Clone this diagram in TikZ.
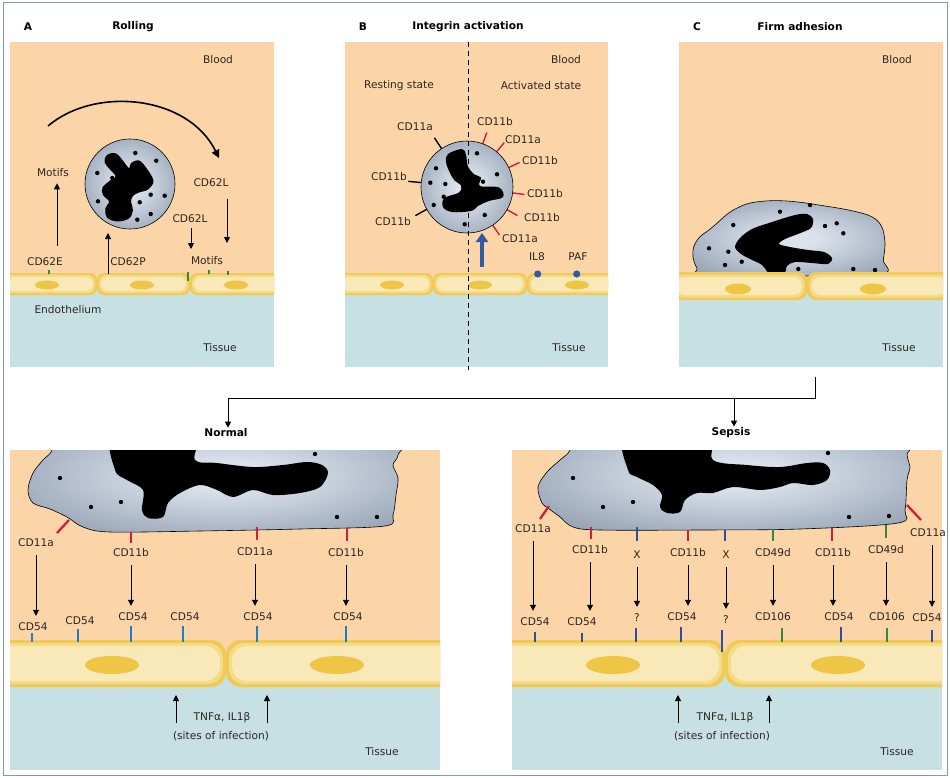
\documentclass[tikz,border=0pt]{standalone}
\usepackage{fontspec}
\setmainfont{DejaVu Sans}
\usetikzlibrary{arrows.meta}

\definecolor{blood}{HTML}{FBD4A8}
\definecolor{tissue}{HTML}{C6E0E3}
\definecolor{endoout}{HTML}{F0CA55}
\definecolor{endomid}{HTML}{F5DB88}
\definecolor{endoin}{HTML}{FAE9B8}
\definecolor{endonuc}{HTML}{EEC545}
\definecolor{cellhi}{HTML}{DCE2EC}
\definecolor{cellmid}{HTML}{A4B0C0}
\definecolor{cellout}{HTML}{6A798B}
\definecolor{rec}{HTML}{CF1F3D}
\definecolor{icam}{HTML}{1F7DC4}
\definecolor{icamdk}{HTML}{2C4F9F}
\definecolor{vcam}{HTML}{2E8C3E}
\definecolor{chemo}{HTML}{2E5AA8}
\definecolor{framec}{HTML}{809F9D}
\definecolor{txt}{HTML}{2E2620}

% leukocyte cytoplasm: pale centre, darker rim
\pgfdeclareradialshading{neutro}{\pgfpoint{0bp}{0bp}}{color(0bp)=(cellhi); color(6bp)=(cellhi); color(26bp)=(cellmid); color(50bp)=(cellout); color(100bp)=(cellout)}

% endothelial cell: x1 y1 x2 y2 corner-radius inset
\newcommand\vesselcell[6]{%
  \fill[endoout, rounded corners=#5] (#1,#2) rectangle (#3,#4);
  \fill[endomid, rounded corners=#5] (#1+#6,#2+#6) rectangle (#3-#6,#4-#6);
  \fill[endoin, rounded corners=#5] (#1+2*#6,#2+2*#6) rectangle (#3-2*#6,#4-2*#6);
}
% endothelial nucleus: x y x-radius y-radius
\newcommand\vesselnucleus[4]{\fill[endonuc] (#1,#2) ellipse[x radius=#3pt, y radius=#4pt];}

\begin{document}
\begin{tikzpicture}[x=1pt,y=-1pt,
  lbl/.style={text=txt, font=\fontsize{10.6}{12}\selectfont, inner sep=1pt},
  ttl/.style={text=black, font=\bfseries\fontsize{10.6}{12}\selectfont, inner sep=1pt},
  arr/.style={draw=black, line width=0.9pt, -{Triangle[length=6pt,width=6pt]}},
  neut/.style={draw=black, line width=0.6pt, shade, shading=neutro},
  tick/.style={line width=2.3pt},
  spike/.style={line width=1.4pt},
  gran/.style={radius=2.2pt}]

\useasboundingbox (0,0) rectangle (950,778);
\fill[white] (0,0) rectangle (950,778);
\draw[framec, line width=1pt] (3,3) rectangle (947,775);

%% ---------------- A: rolling ----------------
\begin{scope}
  \clip (10,42) rectangle (274,367);
  \fill[blood] (10,42) rectangle (274,284);
  \fill[tissue] (10,284) rectangle (274,367);
  \vesselcell{2}{273}{97}{295}{7}{2}
  \vesselcell{97}{273}{190}{295}{7}{2}
  \vesselcell{190}{273}{282}{295}{7}{2}
  \vesselnucleus{47}{285}{12}{4.5}
  \vesselnucleus{142}{285}{12}{4.5}
  \vesselnucleus{236}{285}{12}{4.5}
\end{scope}
\node[neut, circle, minimum size=90pt] (nA) at (130,184) {};
\fill[black] plot[smooth cycle, tension=0.6] coordinates {(107,155) (116,153.5) (124,162) (129,168) (131,163) (139,160.5) (146,167.5) (153.5,180.7) (148,189.5) (139,192.5) (133,196) (131,202) (133,210) (129,218.5) (117.3,221.5) (107,217.5) (105.5,208) (109,201.5) (103,195) (102.5,187.5) (110,180.5) (115.5,176.3) (109.5,169) (104.5,162)};
\foreach \x/\y in {135.3/153,156.3/160.7,97.3/173,112.3/178,150.7/194.7,164.7/195.7,139.7/202.3,98/201.3,150.7/214,137.3/219.7}
  \fill (\x,\y) circle[gran];
\foreach \x/\a/\b in {49/270/274,188/272/281,209/270/274,228/271/275}
  \draw[vcam, line width=2pt] (\x,\a) -- (\x,\b);

\node[ttl] (hA) at (28,27) {A};
\node[ttl] (tA) at (133,27) {Rolling};
\node[lbl] (blA) at (218,60) {Blood};
\node[lbl] (tiA) at (220,348) {Tissue};
\node[lbl] (enA) at (68,310) {Endothelium};
\node[lbl] (moA) at (53,173) {Motifs};
\node[lbl] (eA) at (45,262) {CD62E};
\node[lbl] (pA) at (128,262) {CD62P};
\node[lbl] (l1A) at (211,183) {CD62L};
\node[lbl] (l2A) at (190,219) {CD62L};
\node[lbl] (mo2A) at (207,261) {Motifs};

\coordinate (eArr) at (57,246);
\draw[arr, shorten >=5pt] (eArr) -- (eArr |- moA.south);
\coordinate (pS) at (108,274);
\coordinate (pE) at (108,233);
\draw[arr] (pS) -- (pE);
\coordinate (l1S) at (227,199);
\coordinate (l1E) at (227,243);
\draw[arr] (l1S) -- (l1E);
\coordinate (l2S) at (191,228);
\coordinate (l2E) at (191,249);
\draw[arr] (l2S) -- (l2E);
\coordinate (rollS) at (48,126);
\coordinate (rollE) at (219,158);
\draw[line width=1.6pt, -{Triangle[length=8pt,width=8pt]}] (rollS) .. controls (95,86) and (188,95) .. (rollE);

%% ---------------- B: integrin activation ----------------
\begin{scope}
  \clip (345,42) rectangle (608,367);
  \fill[blood] (345,42) rectangle (608,284);
  \fill[tissue] (345,284) rectangle (608,367);
  \vesselcell{337}{273}{433}{295}{7}{2}
  \vesselcell{433}{273}{527}{295}{7}{2}
  \vesselcell{527}{273}{616}{295}{7}{2}
  \vesselnucleus{392}{285}{12}{4.5}
  \vesselnucleus{480}{285}{12}{4.5}
  \vesselnucleus{577}{285}{12}{4.5}
\end{scope}
\begin{scope}[shift={(467,187)}]
  \foreach \a in {-123.5,-174.5,-209} \draw[spike] (\a:40) -- (\a:59);
  \foreach \a in {-70,-50,-25,7.4,29.5,56} \draw[spike, rec] (\a:40) -- (\a:58);
\end{scope}
\node[neut, circle, minimum size=92pt] (nB) at (467,187) {};
\fill[black] plot[smooth cycle, tension=0.6] coordinates {(448,154) (462,149) (466,155) (468,166.7) (474.5,174.5) (481,177.5) (480,186) (499,187.5) (503,197) (489,201) (478,206) (471,211) (452,212) (443,207) (444.5,198) (459,192.5) (461,185.5) (454.5,180.5) (449.5,172) (446,162)};
\foreach \x/\y in {477/153.3,436/168.3,497/174.3,430.3/182.7,445.3/184,483/181.7,443.7/196.7,433.7/205,484.7/215,464.7/224.3}
  \fill (\x,\y) circle[gran];
\coordinate (dashT) at (468,42);
\coordinate (dashB) at (468,370);
\draw[dash pattern=on 5pt off 4pt, line width=0.8pt] (dashT) -- (dashB);
\coordinate (actS) at (482,267);
\coordinate (actE) at (482,233);
\draw[chemo, line width=4pt, -{Triangle[length=9pt,width=12pt]}] (actS) -- (actE);

\node[ttl] (hB) at (363,27) {B};
\node[ttl] (tB) at (468,27) {Integrin activation};
\node[lbl] (blB) at (566,60) {Blood};
\node[lbl] (rsB) at (399,86) {Resting state};
\node[lbl] (acB) at (541,86) {Activated state};
\node[lbl] (tiB) at (569,348) {Tissue};
\node[lbl] (r1) at (415,127) {CD11a};
\node[lbl] (r2) at (389,177) {CD11b};
\node[lbl] (r3) at (393,222) {CD11b};
\node[lbl] (a1) at (495,122) {CD11b};
\node[lbl] (a2) at (523,140) {CD11a};
\node[lbl] (a3) at (540,161) {CD11b};
\node[lbl] (a4) at (545,194) {CD11b};
\node[lbl] (a5) at (542,218) {CD11b};
\node[lbl] (a6) at (520,239) {CD11a};
\node[lbl] (il8) at (537,257) {IL8};
\node[lbl] (paf) at (578,257) {PAF};
\fill[chemo] (537.7,274) circle[radius=3.6pt];
\fill[chemo] (576.7,274) circle[radius=3.6pt];

%% ---------------- C: firm adhesion ----------------
\begin{scope}
  \clip (679,42) rectangle (943,367);
  \fill[blood] (679,42) rectangle (943,286);
  \fill[tissue] (679,286) rectangle (943,367);
  \shadedraw[shading=neutro, line width=0.6pt] plot[smooth cycle, tension=0.6] coordinates {(693,257) (694,246) (700,236.7) (706.7,231.7) (715,225) (728.3,213.3) (740,206.7) (751.7,202.7) (771.7,200.7) (795,201.7) (825,206) (851.7,210.7) (871.7,216.7) (881.7,226.7) (885,243.3) (883.3,260) (882,274) (800,276) (705,275) (697,268)};
  \fill[black] plot[smooth cycle, tension=0.5] coordinates {(740,238) (752,229) (772,222) (795,215) (807,214) (813,219) (811,228) (798,234) (785,239) (779,244) (790,247) (808,250) (824,252) (832,258) (828,264) (812,263) (795,262) (787,266) (784,274) (770,274) (762,265) (750,259) (741,254) (735,247)};
  \foreach \x/\y in {810/205,780/211.7,836.7/223.3,825/226,733.3/225,843.3/233.3,709/248.3,728.3/251.7,741.7/261.7,725/265,798.3/269,853.3/269,875/270}
    \fill (\x,\y) circle[gran];
  \vesselcell{671}{272}{807}{300}{9}{2.5}
  \vesselcell{807}{272}{951}{300}{9}{2.5}
  \vesselnucleus{738}{289}{13}{5.5}
  \vesselnucleus{873}{289}{13}{5.5}
\end{scope}
\node[ttl] (hC) at (697,27) {C};
\node[ttl] (tC) at (800,27) {Firm adhesion};
\node[lbl] (blC) at (897,60) {Blood};
\node[lbl] (tiC) at (899,348) {Tissue};

%% ---------------- branching to the two outcomes ----------------
\node[ttl] (norm) at (226,433) {Normal};
\node[ttl] (seps) at (731,433) {Sepsis};
\coordinate (brTop) at (815,377);
\coordinate (brJoin) at (815,398);
\coordinate (brL) at (228,398);
\coordinate (brR) at (734,398);
\draw[line width=0.8pt] (brTop) -- (brJoin) -- (brL);
\draw[arr] (brL) -- (brL |- norm.north);
\draw[arr] (brR) -- (brR |- seps.north);

%% ---------------- Normal ----------------
\begin{scope}
  \clip (10,450) rectangle (440,770);
  \fill[blood] (10,450) rectangle (440,664);
  \fill[tissue] (10,664) rectangle (440,770);
  \vesselcell{-10}{640}{226}{687}{15}{3}
  \vesselcell{226}{640}{460}{687}{15}{3}
  \vesselnucleus{112}{665}{27}{9}
  \vesselnucleus{337}{665}{27}{9}
  \shadedraw[shading=neutro, line width=0.6pt] plot[smooth cycle, tension=0.55] coordinates {(52,430) (52,450) (43,460) (33,473) (28,490) (33,503) (50,509) (67,517) (83,527) (110,532) (200,531) (300,529) (385,526) (393,515) (396,495) (398,478) (393,465) (398,455) (397,430) (220,418)};
  \fill[black] plot[smooth cycle, tension=0.55] coordinates {(115,435) (115,470) (127,480) (143,490) (142,510) (148,518) (163,517) (168,503) (180,493) (200,485) (217,490) (233,497) (253,490) (273,495) (300,493) (320,487) (328,473) (322,465) (307,462) (283,465) (253,467) (217,463) (195,460) (192,435)};
  \foreach \x/\y in {60/478,91/507,121/502,315/454,337/517,377/517}
    \fill (\x,\y) circle[gran];
\end{scope}
\draw[tick, rec] (57,533) -- (69,520);
\foreach \x/\a/\b in {131/532/543,257/527/540,347/528/541}
  \draw[tick, rec] (\x,\a) -- (\x,\b);
\foreach \x/\a in {32/633,78/629,131/626,183/626,257/626,346/626}
  \draw[tick, icam] (\x,\a) -- (\x,642);

\node[lbl] (n1) at (36,543) {CD11a};
\node[lbl] (n2) at (131,553) {CD11b};
\node[lbl] (n3) at (255,552) {CD11a};
\node[lbl] (n4) at (346,553) {CD11b};
\node[lbl] (m1) at (33,627) {CD54};
\node[lbl] (m2) at (80,621) {CD54};
\node[lbl] (m3) at (133,617) {CD54};
\node[lbl] (m4) at (185,617) {CD54};
\node[lbl] (m5) at (258,617) {CD54};
\node[lbl] (m6) at (348,617) {CD54};
\foreach \s/\t in {n1/m1,n2/m3,n3/m5,n4/m6}
  \draw[arr, shorten <=7pt, shorten >=6pt] (\s.south) -- (\s.south |- \t.north);

\coordinate (nu1S) at (176,723);
\coordinate (nu1E) at (176,695);
\coordinate (nu2S) at (267,723);
\coordinate (nu2E) at (267,695);
\draw[arr] (nu1S) -- (nu1E);
\draw[arr] (nu2S) -- (nu2E);
\node[lbl] (ncyt) at (222,718) {TNFα, IL1β};
\node[lbl] (nsite) at (221,736) {(sites of infection)};
\node[lbl] (ntis) at (382,752) {Tissue};

%% ---------------- Sepsis ----------------
\begin{scope}
  \clip (512,450) rectangle (942,770);
  \fill[blood] (512,450) rectangle (942,664);
  \fill[tissue] (512,664) rectangle (942,770);
  \vesselcell{490}{640}{725}{687}{15}{3}
  \vesselcell{725}{640}{960}{687}{15}{3}
  \vesselnucleus{613}{665}{27}{9}
  \vesselnucleus{838}{665}{27}{9}
  \shadedraw[shading=neutro, line width=0.6pt] plot[smooth cycle, tension=0.55] coordinates {(571,430) (570,450) (560,460) (547,472) (538,487) (542,503) (548,508) (560,517) (573,527) (600,530) (700,530) (800,529) (898,523) (905,510) (907,480) (910,467) (907,455) (906,430) (740,418)};
  \fill[black] plot[smooth cycle, tension=0.55] coordinates {(627,435) (628,470) (637,477) (653,485) (662,495) (660,507) (667,513) (680,512) (685,500) (697,493) (713,493) (733,487) (760,490) (780,487) (793,483) (813,485) (827,480) (830,470) (823,463) (807,463) (780,467) (747,465) (713,460) (707,435)};
  \foreach \x/\y in {573/478,603/507,633/502,828/453,849/517,889/516}
    \fill (\x,\y) circle[gran];
\end{scope}
\draw[tick, rec] (540,519) -- (549,506);
\draw[tick, rec] (907,505) -- (921,520);
\foreach \x/\a/\b in {591/527/539,688/530/541,832/528/541}
  \draw[tick, rec] (\x,\a) -- (\x,\b);
\foreach \x/\a/\b in {637/527/541,725/530/541}
  \draw[tick, icamdk] (\x,\a) -- (\x,\b);
\foreach \x/\a/\b in {773/529/541,886/525/538}
  \draw[tick, vcam] (\x,\a) -- (\x,\b);
\foreach \x/\a in {535/632,582/633,636/628,681/627,841/627,932/630}
  \draw[tick, icamdk] (\x,\a) -- (\x,642);
\draw[icamdk, line width=2.8pt] (722,630) -- (722,652);
\foreach \x in {782,887}
  \draw[tick, vcam] (\x,628) -- (\x,642);

\node[lbl] (s1) at (533,529) {CD11a};
\node[lbl] (s2) at (590,550) {CD11b};
\node[lbl] (s3) at (637,555) {X};
\node[lbl] (s4) at (688,553) {CD11b};
\node[lbl] (s5) at (726,555) {X};
\node[lbl] (s6) at (773,553) {CD49d};
\node[lbl] (s7) at (833,553) {CD11b};
\node[lbl] (s8) at (886,550) {CD49d};
\node[lbl] (s9) at (928,533) {CD11a};
\node[lbl] (t1) at (535,622) {CD54};
\node[lbl] (t2) at (582,622) {CD54};
\node[lbl] (t3) at (637,618) {?};
\node[lbl] (t4) at (682,617) {CD54};
\node[lbl] (t5) at (726,620) {?};
\node[lbl] (t6) at (773,617) {CD106};
\node[lbl] (t7) at (839,617) {CD54};
\node[lbl] (t8) at (887,617) {CD106};
\node[lbl] (t9) at (927,618) {CD54};
\foreach \s/\t in {s1/t1,s2/t2,s3/t3,s4/t4,s5/t5,s6/t6,s7/t7,s8/t8}
  \draw[arr, shorten <=7pt, shorten >=6pt] (\s.south) -- (\s.south |- \t.north);
\draw[arr, shorten <=7pt, shorten >=6pt] ([xshift=4pt]s9.south) -- ([xshift=4pt]s9.south |- t9.north);

\coordinate (su1S) at (678,723);
\coordinate (su1E) at (678,695);
\coordinate (su2S) at (769,723);
\coordinate (su2E) at (769,695);
\draw[arr] (su1S) -- (su1E);
\draw[arr] (su2S) -- (su2E);
\node[lbl] (scyt) at (725,718) {TNFα, IL1β};
\node[lbl] (ssite) at (722,736) {(sites of infection)};
\node[lbl] (stis) at (897,752) {Tissue};

\end{tikzpicture}
\end{document}
